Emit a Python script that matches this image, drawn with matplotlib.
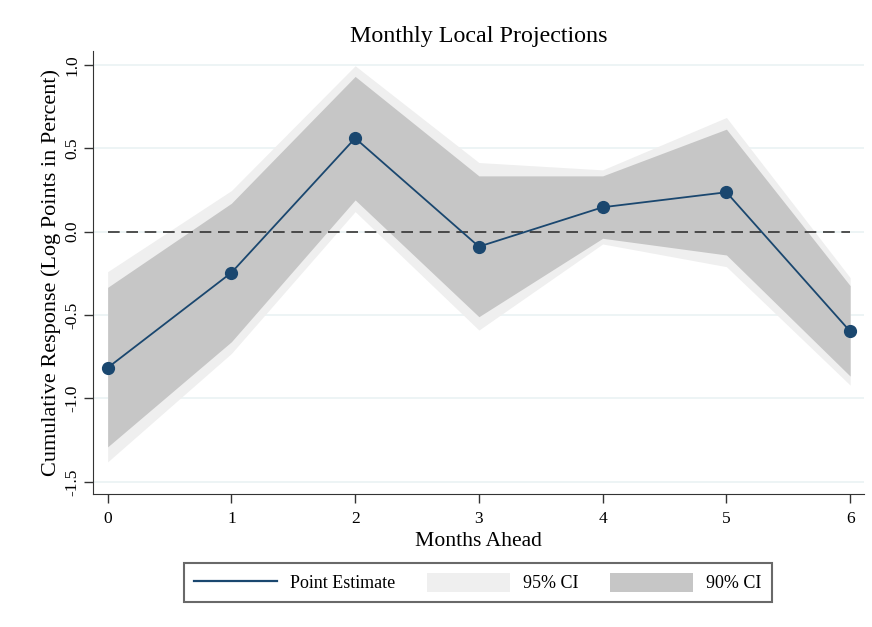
import numpy as np
import matplotlib
matplotlib.use("Agg")
import matplotlib.pyplot as plt
from matplotlib.lines import Line2D
from matplotlib.patches import Patch

# values
months = [0, 1, 2, 3, 4, 5, 6]
point_est = [-0.816, -0.246, 0.56, -0.09, 0.146, 0.236, -0.598]
ci90_lo = [-1.29, -0.66, 0.19, -0.51, -0.04, -0.14, -0.866]
ci90_hi = [-0.334, 0.17, 0.93, 0.334, 0.334, 0.614, -0.324]
ci95_lo = [-1.38, -0.73, 0.12, -0.59, -0.074, -0.21, -0.92]
ci95_hi = [-0.24, 0.246, 0.994, 0.414, 0.37, 0.684, -0.276]
yticks = [-1.5, -1.0, -0.5, 0.0, 0.5, 1.0]

navy = "#1a476f"
light = "#efefef"
dark = "#c6c6c6"

plt.rcParams['font.family'] = ['Liberation Serif', 'DejaVu Serif']

fig = plt.figure(figsize=(8.72, 6.27), dpi=100)
ax = fig.add_axes([0.107, 0.212, 0.884, 0.706])

for yt in yticks:
    ax.axhline(yt, color="#eaf2f3", lw=1.2, zorder=0)

ax.fill_between(months, ci95_lo, ci95_hi, color=light, lw=0, zorder=1)
ax.fill_between(months, ci90_lo, ci90_hi, color=dark, lw=0, zorder=2)
ax.hlines(0, months[0], months[-1], colors="#333333", linestyles=(0, (7, 4)), lw=1.2, zorder=3)
ax.plot(months, point_est, color=navy, lw=1.3, marker="o", ms=8.5, zorder=4)

ax.set_xlim(-0.116, 6.113)
ax.set_ylim(-1.573, 1.08)
ax.set_xticks(months)
ax.set_yticks(yticks)
ax.set_yticklabels([f"{v:.1f}" for v in yticks], rotation=90, va="center")
ax.tick_params(axis="both", labelsize=12.5, length=6.5, width=1, colors="#333333", labelcolor="black")
ax.tick_params(axis="y", pad=2.5)
ax.tick_params(axis="x", pad=6)
for s in ["top", "right"]:
    ax.spines[s].set_visible(False)
for s in ["left", "bottom"]:
    ax.spines[s].set_color("#333333")

ax.set_title("Monthly Local Projections", fontsize=17.3, pad=7)
ax.set_xlabel("Months Ahead", fontsize=15.6, labelpad=3)
ax.set_ylabel("Cumulative Response (Log Points in Percent)", fontsize=16, labelpad=3)

handles = [Line2D([], [], color=navy, lw=1.6),
           Patch(facecolor=light, edgecolor="none"),
           Patch(facecolor=dark, edgecolor="none")]
labels = ["Point Estimate", "95% CI", "90% CI"]
leg = fig.legend(handles, labels, loc="center", bbox_to_anchor=(0.548, 0.0706), ncol=3,
                 fontsize=13, frameon=True, fancybox=False, handlelength=4.6,
                 handleheight=1.2, handletextpad=0.72, columnspacing=1.75,
                 borderpad=0.55)
leg.get_frame().set_edgecolor("#444444")
leg.get_frame().set_linewidth(1.5)

fig.savefig("out.png", dpi=100)
